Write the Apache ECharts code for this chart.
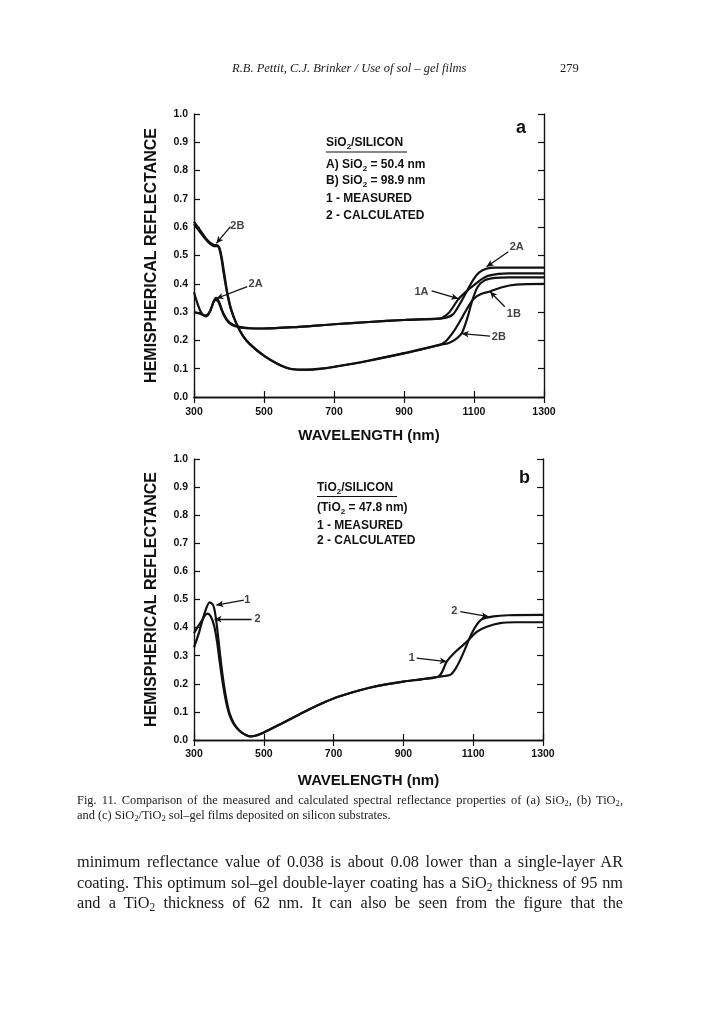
<!DOCTYPE html>
<html><head><meta charset="utf-8">
<script src="https://cdn.jsdelivr.net/npm/echarts@6/dist/echarts.min.js"></script>
<style>
html,body{margin:0;padding:0;background:#fff;}
#page{position:relative;width:702px;height:1026px;overflow:hidden;background:#fff;}
#chart{position:absolute;left:0;top:0;width:702px;height:1026px;}
.t{position:absolute;font-family:"Liberation Serif","Times New Roman",serif;color:#1a1a1a;white-space:nowrap;}
.t sub{font-size:70%;vertical-align:-0.25em;line-height:0;}
</style></head>
<body><div id="page"><div id="chart"></div>
<div class="t" style="left:232px;top:61px;font-size:12.5px;line-height:14px;font-style:italic;">R.B. Pettit, C.J. Brinker / Use of sol – gel films</div>
<div class="t" style="left:560px;top:61px;font-size:12.5px;line-height:14px;">279</div>
<div class="t" style="left:77px;top:793px;width:546px;font-size:12.4px;line-height:15px;text-align:justify;text-align-last:justify;white-space:normal;">Fig. 11. Comparison of the measured and calculated spectral reflectance properties of (a) SiO<sub>2</sub>, (b) TiO<sub>2</sub>,</div>
<div class="t" style="left:77px;top:808px;font-size:12.4px;line-height:15px;">and (c) SiO<sub>2</sub>/TiO<sub>2</sub> sol–gel films deposited on silicon substrates.</div>
<div class="t" style="left:77px;top:852px;width:546px;font-size:16.3px;line-height:20.5px;white-space:normal;text-align:justify;text-align-last:justify;">minimum reflectance value of 0.038 is about 0.08 lower than a single-layer AR coating. This optimum sol–gel double-layer coating has a SiO<sub>2</sub> thickness of 95 nm and a TiO<sub>2</sub> thickness of 62 nm. It can also be seen from the figure that the</div>
</div>
<script>
// ---------- DATA ----------
const xTicks = [300, 500, 700, 900, 1100, 1300];
// Panel a: SiO2/silicon
const wlA1 = [300,315,330,340,350,360,368,380,395,410,430,460,500,600,700,800,900,1000,1010,1030,1055,1080,1100,1120,1140,1170,1200,1300];
const rA1  = [0.300,0.295,0.288,0.292,0.315,0.342,0.340,0.305,0.272,0.256,0.248,0.243,0.242,0.248,0.257,0.265,0.272,0.277,0.280,0.300,0.345,0.375,0.395,0.415,0.428,0.435,0.437,0.437];
const wlA2 = [300,310,320,335,345,355,363,372,385,400,420,450,500,600,700,800,900,1000,1020,1040,1060,1080,1100,1115,1135,1160,1200,1300];
const rA2  = [0.370,0.330,0.300,0.285,0.300,0.335,0.350,0.335,0.290,0.262,0.249,0.243,0.242,0.248,0.257,0.265,0.272,0.277,0.280,0.292,0.330,0.375,0.418,0.440,0.453,0.457,0.457,0.457];
const wlB1 = [300,320,340,355,370,378,386,395,405,420,440,460,500,540,580,620,660,700,800,900,1000,1020,1040,1060,1080,1100,1120,1145,1180,1220,1300];
const rB1  = [0.612,0.578,0.548,0.534,0.532,0.500,0.440,0.370,0.315,0.263,0.216,0.187,0.146,0.117,0.099,0.097,0.100,0.107,0.129,0.155,0.184,0.198,0.228,0.268,0.312,0.348,0.364,0.373,0.388,0.397,0.400];
const wlB2 = [300,320,340,355,368,376,385,395,405,420,440,460,500,540,580,620,660,700,800,900,1000,1030,1050,1065,1080,1095,1110,1130,1160,1200,1300];
const rB2  = [0.620,0.585,0.552,0.538,0.535,0.505,0.435,0.365,0.312,0.262,0.215,0.186,0.145,0.116,0.098,0.096,0.099,0.106,0.128,0.154,0.183,0.192,0.206,0.225,0.275,0.340,0.388,0.412,0.421,0.423,0.423];
// Panel b: TiO2/silicon
const wlT1 = [300,315,330,345,355,362,368,375,383,392,402,415,430,445,460,475,500,550,600,650,700,750,800,850,900,950,1000,1012,1024,1050,1082,1110,1139,1177,1220,1300];
const rT1  = [0.330,0.385,0.450,0.490,0.480,0.440,0.380,0.300,0.220,0.150,0.095,0.058,0.034,0.020,0.013,0.015,0.027,0.058,0.090,0.121,0.148,0.168,0.185,0.198,0.208,0.216,0.225,0.245,0.279,0.315,0.350,0.385,0.403,0.416,0.419,0.419];
const wlT2 = [300,320,338,348,358,366,374,382,392,402,415,430,445,460,475,500,550,600,650,700,750,800,850,900,950,1000,1034,1050,1067,1082,1096,1110,1125,1158,1200,1300];
const rT2  = [0.380,0.420,0.450,0.440,0.405,0.350,0.275,0.205,0.135,0.088,0.055,0.033,0.020,0.013,0.015,0.027,0.058,0.090,0.121,0.148,0.168,0.185,0.198,0.208,0.216,0.225,0.232,0.255,0.296,0.340,0.380,0.410,0.430,0.440,0.444,0.445];
// Curve annotations (label, label position, leader start, arrow tip) in data units
const annA = [
  {name:'2B', at:[424,0.605], from:[404,0.602], to:[364,0.543]},
  {name:'2A', at:[476,0.399], from:[452,0.390], to:[364,0.348]},
  {name:'2A', at:[1222,0.531], from:[1198,0.513], to:[1136,0.460]},
  {name:'1A', at:[950,0.372], from:[979,0.375], to:[1055,0.348]},
  {name:'1B', at:[1214,0.295], from:[1188,0.319], to:[1146,0.372]},
  {name:'2B', at:[1171,0.212], from:[1146,0.215], to:[1065,0.224]}
];
const annB = [
  {name:'1', at:[453,0.498], from:[443,0.498], to:[364,0.480]},
  {name:'2', at:[482,0.430], from:[465,0.430], to:[359,0.430]},
  {name:'2', at:[1046,0.460], from:[1063,0.457], to:[1144,0.439]},
  {name:'1', at:[924,0.291], from:[938,0.291], to:[1024,0.279]}
];

// ---------- CHART ----------
const INK = '#111111';
const FONT = '"Liberation Sans", Arial, Helvetica, sans-serif';
const zip = (xs, ys) => xs.map((x, i) => [x, ys[i]]);
const tickStyle = {inside:true, length:6, lineStyle:{color:INK, width:1.2}};
const lineAx = {lineStyle:{color:INK, width:1.4}};

function xAxes(gi, margin, gap) {
  return [
    {gridIndex:gi, type:'value', min:xTicks[0], max:xTicks[xTicks.length-1], interval:xTicks[1]-xTicks[0], position:'bottom',
     axisLine:lineAx, axisTick:tickStyle, splitLine:{show:false},
     axisLabel:{color:INK, fontFamily:FONT, fontWeight:'bold', fontSize:10.5, margin:margin, formatter:v=>String(Math.round(v))},
     name:'WAVELENGTH (nm)', nameLocation:'middle', nameGap:gap,
     nameTextStyle:{color:INK, fontFamily:FONT, fontWeight:'bold', fontSize:15}},
    {gridIndex:gi, type:'value', min:xTicks[0], max:xTicks[xTicks.length-1], interval:xTicks[1]-xTicks[0], position:'top',
     axisLine:lineAx, axisTick:tickStyle, splitLine:{show:false}, axisLabel:{show:false}}
  ];
}
function yAxes(gi) {
  return [
    {gridIndex:gi, type:'value', min:0, max:1, interval:0.1, position:'left',
     axisLine:lineAx, axisTick:tickStyle, splitLine:{show:false},
     axisLabel:{color:INK, fontFamily:FONT, fontWeight:'bold', fontSize:10.5, margin:6, formatter:v=>v.toFixed(1)},
     name:'HEMISPHERICAL REFLECTANCE', nameLocation:'middle', nameGap:34,
     nameTextStyle:{color:INK, fontFamily:FONT, fontWeight:'bold', fontSize:16}},
    {gridIndex:gi, type:'value', min:0, max:1, interval:0.1, position:'right',
     axisLine:lineAx, axisTick:tickStyle, splitLine:{show:false}, axisLabel:{show:false}}
  ];
}
function curve(xi, yi, xs, ys) {
  return {type:'line', xAxisIndex:xi, yAxisIndex:yi, data:zip(xs, ys), showSymbol:false, symbol:'none',
          smooth:0.3, lineStyle:{color:INK, width:2.2}, silent:true, z:3};
}
function annotations(xi, yi, list) {
  return {type:'scatter', xAxisIndex:xi, yAxisIndex:yi, symbolSize:0, silent:true, z:5,
    data:list.map(a => ({name:a.name, value:a.at})),
    label:{show:true, position:'inside', formatter:'{b}', color:INK, fontFamily:FONT, fontWeight:'bold', fontSize:11},
    markLine:{silent:true, symbol:['none','arrow'], symbolSize:[5,7], animation:false,
      lineStyle:{color:INK, width:1.3, type:'solid', opacity:1}, label:{show:false},
      data:list.map(a => [{coord:a.from}, {coord:a.to}])}
  };
}
const rich = {
  n:{fontFamily:FONT, fontWeight:'bold', fontSize:12, lineHeight:15, fill:INK, color:INK},
  s:{fontFamily:FONT, fontWeight:'bold', fontSize:8, lineHeight:9, verticalAlign:'bottom', fill:INK, color:INK}
};
function gText(x, y, text, extra) {
  return Object.assign({type:'text', x:x, y:y, silent:true,
    style:{text:text, rich:rich, fill:INK, font:'bold 12px ' + FONT, verticalAlign:'middle', align:'left'}}, extra || {});
}

const option = {
  animation:false,
  backgroundColor:'#ffffff',
  grid:[
    {left:194, top:114, width:350, height:283},
    {left:194, top:459, width:349, height:281}
  ],
  xAxis:[...xAxes(0, 10, 31), ...xAxes(1, 9, 33)],
  yAxis:[...yAxes(0), ...yAxes(1)],
  series:[
    curve(0,0,wlA1,rA1), curve(0,0,wlA2,rA2), curve(0,0,wlB1,rB1), curve(0,0,wlB2,rB2),
    annotations(0,0,annA),
    curve(2,2,wlT1,rT1), curve(2,2,wlT2,rT2),
    annotations(2,2,annB)
  ],
  graphic:[
    gText(326,143,'{n|SiO}{s|2}{n|/SILICON}'),
    {type:'line', silent:true, shape:{x1:326,y1:152,x2:407,y2:152}, style:{stroke:INK, lineWidth:1.2}},
    gText(326,165,'{n|A) SiO}{s|2}{n| = 50.4 nm}'),
    gText(326,181,'{n|B) SiO}{s|2}{n| = 98.9 nm}'),
    gText(326,199,'{n|1 - MEASURED}'),
    gText(326,216,'{n|2 - CALCULATED}'),
    {type:'text', x:516, y:128, silent:true, style:{text:'a', fill:INK, font:'bold 18px ' + FONT, verticalAlign:'middle'}},
    gText(317,488,'{n|TiO}{s|2}{n|/SILICON}'),
    {type:'line', silent:true, shape:{x1:317,y1:496.5,x2:397,y2:496.5}, style:{stroke:INK, lineWidth:1.2}},
    gText(317,508,'{n|(TiO}{s|2}{n| = 47.8 nm)}'),
    gText(317,525.5,'{n|1 - MEASURED}'),
    gText(317,541,'{n|2 - CALCULATED}'),
    {type:'text', x:519, y:478, silent:true, style:{text:'b', fill:INK, font:'bold 18px ' + FONT, verticalAlign:'middle'}}
  ]
};
const chart = echarts.init(document.getElementById('chart'));
chart.setOption(option);
</script>
</body></html>
